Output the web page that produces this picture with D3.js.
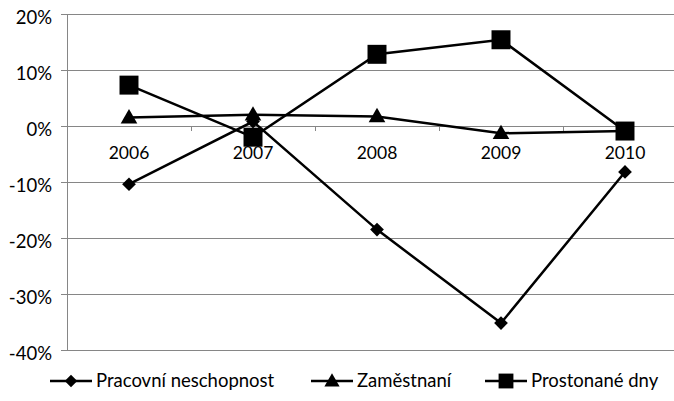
<!DOCTYPE html>
<html><head><meta charset="utf-8">
<script src="https://cdn.jsdelivr.net/npm/d3@7"></script>
<style>body{margin:0;background:#fff}svg{display:block}text{font-family:Lato,"Open Sans",sans-serif;fill:#000}</style>
</head><body><svg id="c" width="674" height="401"></svg>
<script>
const years = ["2006","2007","2008","2009","2010"];
const pracovni = [-10.4, 0.8, -18.5, -35.2, -8.2];
const zamestnani = [1.5, 2.0, 1.7, -1.3, -0.9];
const prostonane = [7.3, -2.0, 12.8, 15.4, -0.9];
const yTicks = [20, 10, 0, -10, -20, -30, -40];
const seriesNames = ["Pracovní neschopnost", "Zaměstnaní", "Prostonané dny"];

const svg = d3.select("#c");
const L = 67, R = 687, T = 14, B = 350;
const x = d3.scaleBand().domain(years).range([L, R]);
const y = d3.scaleLinear().domain([-40, 20]).range([B, T]);
const grey = "#868686";

// gridlines
svg.append("g").selectAll("line").data(yTicks).join("line")
  .attr("x1", L).attr("x2", R).attr("y1", d => y(d)).attr("y2", d => y(d))
  .attr("stroke", grey).attr("stroke-width", 1).attr("shape-rendering","crispEdges");

// y axis
const ya = svg.append("g").attr("transform", `translate(${L},0)`)
  .call(d3.axisLeft(y).tickValues(yTicks).tickFormat(d => d + "%").tickSize(6).tickPadding(9));
ya.select(".domain").attr("stroke", grey).attr("shape-rendering","crispEdges");
ya.selectAll(".tick line").attr("stroke", grey).attr("shape-rendering","crispEdges");
ya.selectAll("text").style("font-size", "18.5px").attr("fill", "#000").attr("dy", "0.5em");

// x axis at 0
const xa = svg.append("g").attr("transform", `translate(0,${y(0)})`)
  .call(d3.axisBottom(x).tickSize(0).tickPadding(21));
xa.select(".domain").remove();
xa.selectAll("text").style("font-size", "17.5px").attr("fill", "#000");
const bounds = years.map(d => x(d)).concat([R]);
svg.append("g").selectAll("line").data(bounds).join("line")
  .attr("x1", d => d).attr("x2", d => d).attr("y1", y(0)).attr("y2", y(0) + 5)
  .attr("stroke", grey).attr("shape-rendering","crispEdges");

const cx = d => x(d) + x.bandwidth() / 2;
const line = d3.line().x((d, i) => cx(years[i])).y(d => y(d));
const data = [pracovni, zamestnani, prostonane];
const symbols = [d3.symbolDiamond2, d3.symbolTriangle, d3.symbolSquare];
const sizes = [120, 120, 360];

data.forEach((s, k) => {
  svg.append("path").attr("d", line(s)).attr("fill", "none")
    .attr("stroke", "#000").attr("stroke-width", 2.5);
});
data.forEach((s, k) => {
  const sym = d3.symbol().type(symbols[k]).size(sizes[k]);
  svg.append("g").selectAll("path").data(s).join("path")
    .attr("d", sym)
    .attr("transform", (d, i) => `translate(${cx(years[i])},${y(d) + (k===1 ? 1 : 0)})`)
    .attr("fill", "#000");
});

// legend
const lg = svg.append("g");
const legX = [50, 311, 485];
seriesNames.forEach((n, k) => {
  const g = lg.append("g").attr("transform", `translate(${legX[k]},381)`);
  g.append("line").attr("x1", 0).attr("x2", 42).attr("stroke", "#000").attr("stroke-width", 2.5);
  g.append("path").attr("d", d3.symbol().type(symbols[k]).size(k===2 ? 220 : 100)())
    .attr("transform", `translate(21,${k===1?1:0})`).attr("fill", "#000");
  g.append("text").attr("x", 46).attr("dy", "0.35em").style("font-size", "18.5px").text(n);
});
</script></body></html>
